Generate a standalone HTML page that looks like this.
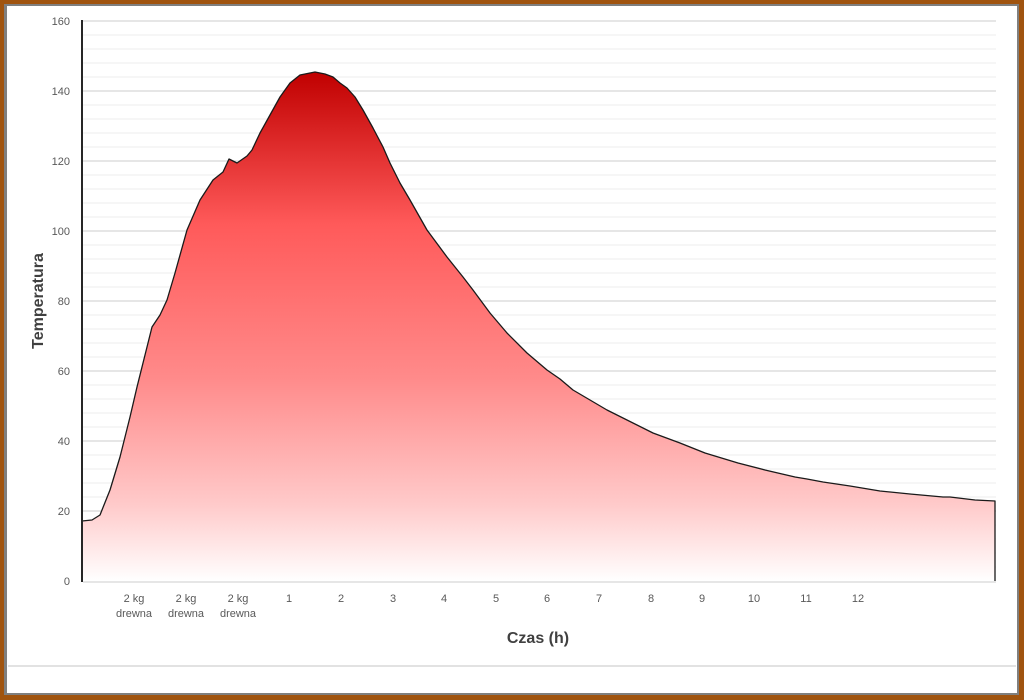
<!DOCTYPE html>
<html><head><meta charset="utf-8"><style>
html,body{margin:0;padding:0;background:#fff;}
svg{display:block;}
text{font-family:"Liberation Sans",sans-serif;}
</style></head><body>
<svg width="1024" height="700" viewBox="0 0 1024 700" xmlns="http://www.w3.org/2000/svg">
<defs>
<linearGradient id="g" x1="0" y1="72" x2="0" y2="581" gradientUnits="userSpaceOnUse">
<stop offset="0" stop-color="#c00000"/>
<stop offset="0.3" stop-color="#ff5a5a"/>
<stop offset="0.6" stop-color="#ff8a8a"/>
<stop offset="0.85" stop-color="#ffcaca"/>
<stop offset="1" stop-color="#ffffff"/>
</linearGradient>
</defs>
<rect x="0" y="0" width="1024" height="700" fill="#a0540f"/>
<rect x="4" y="4" width="1015" height="691" fill="#7f7f7f"/>
<rect x="7" y="6" width="1010" height="687" fill="#ffffff"/>
<line x1="8" y1="666" x2="1016" y2="666" stroke="#d9d9d9" stroke-width="1.5"/>
<g stroke="#eeeeee" stroke-width="1">
<line x1="83" x2="996" y1="35" y2="35"/><line x1="83" x2="996" y1="49" y2="49"/><line x1="83" x2="996" y1="63" y2="63"/><line x1="83" x2="996" y1="77" y2="77"/>
<line x1="83" x2="996" y1="105" y2="105"/><line x1="83" x2="996" y1="119" y2="119"/><line x1="83" x2="996" y1="133" y2="133"/><line x1="83" x2="996" y1="147" y2="147"/>
<line x1="83" x2="996" y1="175" y2="175"/><line x1="83" x2="996" y1="189" y2="189"/><line x1="83" x2="996" y1="203" y2="203"/><line x1="83" x2="996" y1="217" y2="217"/>
<line x1="83" x2="996" y1="245" y2="245"/><line x1="83" x2="996" y1="259" y2="259"/><line x1="83" x2="996" y1="273" y2="273"/><line x1="83" x2="996" y1="287" y2="287"/>
<line x1="83" x2="996" y1="315" y2="315"/><line x1="83" x2="996" y1="329" y2="329"/><line x1="83" x2="996" y1="343" y2="343"/><line x1="83" x2="996" y1="357" y2="357"/>
<line x1="83" x2="996" y1="385" y2="385"/><line x1="83" x2="996" y1="399" y2="399"/><line x1="83" x2="996" y1="413" y2="413"/><line x1="83" x2="996" y1="427" y2="427"/>
<line x1="83" x2="996" y1="455" y2="455"/><line x1="83" x2="996" y1="469" y2="469"/><line x1="83" x2="996" y1="483" y2="483"/><line x1="83" x2="996" y1="497" y2="497"/>
<line x1="83" x2="996" y1="525" y2="525"/><line x1="83" x2="996" y1="539" y2="539"/><line x1="83" x2="996" y1="553" y2="553"/><line x1="83" x2="996" y1="567" y2="567"/>
</g>
<g stroke="#d6d6d6" stroke-width="1.3">
<line x1="83" x2="996" y1="21" y2="21"/><line x1="83" x2="996" y1="91" y2="91"/><line x1="83" x2="996" y1="161" y2="161"/><line x1="83" x2="996" y1="231" y2="231"/>
<line x1="83" x2="996" y1="301" y2="301"/><line x1="83" x2="996" y1="371" y2="371"/><line x1="83" x2="996" y1="441" y2="441"/><line x1="83" x2="996" y1="511" y2="511"/>
<line x1="83" x2="996" y1="582" y2="582"/>
</g>
<path d="M82,521 L92,520 L100,515 L110,490 L120,457 L130,417 L137,387 L145,355 L152,327 L160,315 L167,300 L175,273 L187,230 L200,200 L213,180 L223,172 L229,159 L237,163 L247,156 L252,150 L260,133 L270,115 L280,97 L290,83 L300,75 L315,72 L325,74 L333,77 L340,83 L347,88 L355,97 L363,110 L373,128 L383,147 L390,163 L400,183 L410,200 L427,230 L447,257 L463,277 L473,290 L490,313 L507,333 L527,353 L547,370 L560,379 L573,390 L607,410 L653,433 L680,443 L705,453 L738,463 L765,470 L795,477 L807,479 L823,482 L850,486 L880,491 L910,494 L943,497 L950,497 L975,500 L995,501 L995,581 L82,581 Z" fill="url(#g)" stroke="none"/>
<path d="M82,521 L92,520 L100,515 L110,490 L120,457 L130,417 L137,387 L145,355 L152,327 L160,315 L167,300 L175,273 L187,230 L200,200 L213,180 L223,172 L229,159 L237,163 L247,156 L252,150 L260,133 L270,115 L280,97 L290,83 L300,75 L315,72 L325,74 L333,77 L340,83 L347,88 L355,97 L363,110 L373,128 L383,147 L390,163 L400,183 L410,200 L427,230 L447,257 L463,277 L473,290 L490,313 L507,333 L527,353 L547,370 L560,379 L573,390 L607,410 L653,433 L680,443 L705,453 L738,463 L765,470 L795,477 L807,479 L823,482 L850,486 L880,491 L910,494 L943,497 L950,497 L975,500 L995,501 L995,581" fill="none" stroke="#1a1a1a" stroke-width="1.3" stroke-linejoin="round"/>
<line x1="82" y1="20" x2="82" y2="582" stroke="#262626" stroke-width="2"/>
<g font-size="11" fill="#595959" text-anchor="end">
<text x="70" y="25">160</text><text x="70" y="95">140</text><text x="70" y="165">120</text><text x="70" y="235">100</text>
<text x="70" y="305">80</text><text x="70" y="375">60</text><text x="70" y="445">40</text><text x="70" y="515">20</text><text x="70" y="585">0</text>
</g>
<g font-size="11" fill="#595959" text-anchor="middle">
<text x="134" y="602">2 kg</text><text x="134" y="617">drewna</text>
<text x="186" y="602">2 kg</text><text x="186" y="617">drewna</text>
<text x="238" y="602">2 kg</text><text x="238" y="617">drewna</text>
<text x="289" y="602">1</text><text x="341" y="602">2</text><text x="393" y="602">3</text><text x="444" y="602">4</text>
<text x="496" y="602">5</text><text x="547" y="602">6</text><text x="599" y="602">7</text><text x="651" y="602">8</text>
<text x="702" y="602">9</text><text x="754" y="602">10</text><text x="806" y="602">11</text><text x="858" y="602">12</text>
</g>
<text x="538" y="643" font-size="16" font-weight="bold" fill="#404040" text-anchor="middle">Czas (h)</text>
<text transform="translate(43,301) rotate(-90)" font-size="16" font-weight="bold" fill="#404040" text-anchor="middle">Temperatura</text>
</svg>
</body></html>
